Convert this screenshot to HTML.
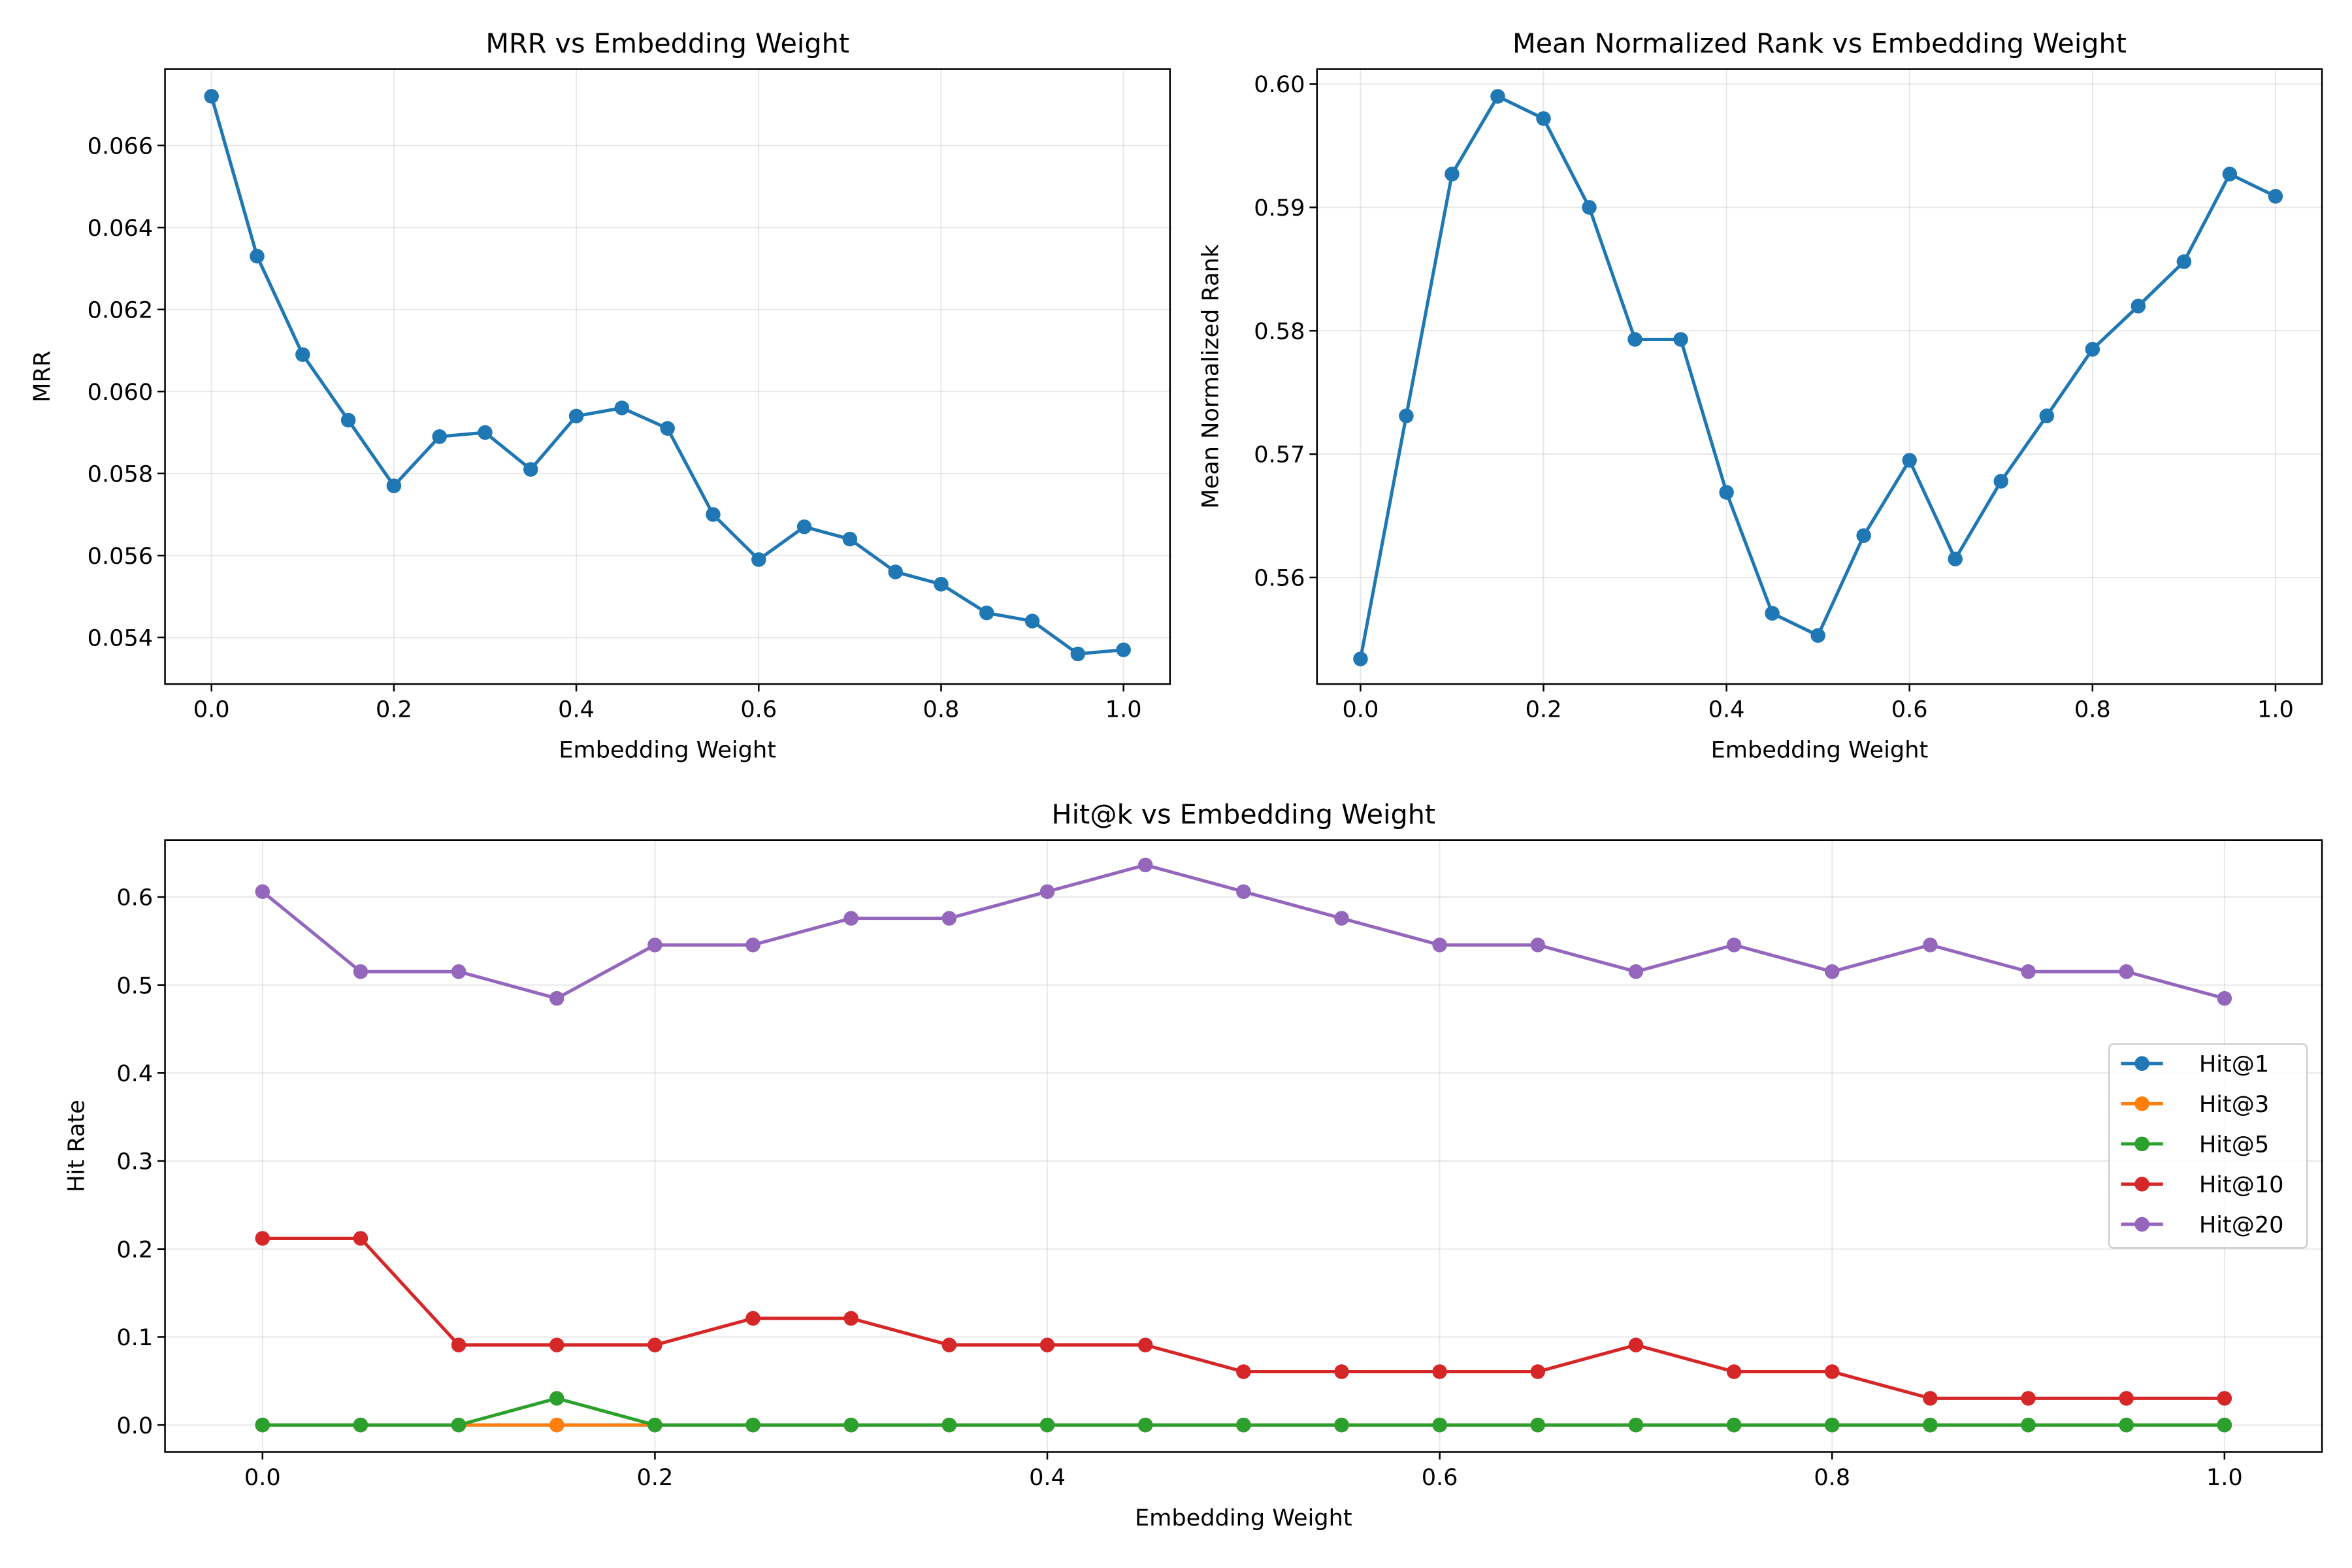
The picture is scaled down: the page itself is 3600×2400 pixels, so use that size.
<!DOCTYPE html>
<html><head><meta charset="utf-8"><style>
html,body{margin:0;padding:0;background:#fff}
svg{display:block}
text{font-family:"DejaVu Sans","Liberation Sans",sans-serif;fill:#000}
</style></head><body>
<svg id="fig" width="3600" height="2400" viewBox="0 0 1568 1045.33" xmlns="http://www.w3.org/2000/svg">
<rect width="1568" height="1045.33" fill="#fff"/>
</svg>
<script>
const weights=[0,0.05,0.1,0.15,0.2,0.25,0.3,0.35,0.4,0.45,0.5,0.55,0.6,0.65,0.7,0.75,0.8,0.85,0.9,0.95,1.0];
const mrr=[0.0672,0.0633,0.0609,0.0593,0.0577,0.0589,0.0590,0.0581,0.0594,0.0596,0.0591,0.0570,0.0559,0.0567,0.0564,0.0556,0.0553,0.0546,0.0544,0.0536,0.0537];
const mnr=[0.5534,0.5731,0.5927,0.5990,0.5972,0.5900,0.5793,0.5793,0.5669,0.5571,0.5553,0.5634,0.5695,0.5615,0.5678,0.5731,0.5785,0.5820,0.5856,0.5927,0.5909];
const hit1=[0,0,0,0,0,0,0,0,0,0,0,0,0,0,0,0,0,0,0,0,0];
const hit3=[0,0,0,0,0,0,0,0,0,0,0,0,0,0,0,0,0,0,0,0,0];
const hit5=[0,0,0,0.0303,0,0,0,0,0,0,0,0,0,0,0,0,0,0,0,0,0];
const hit10=[0.2121,0.2121,0.0909,0.0909,0.0909,0.1212,0.1212,0.0909,0.0909,0.0909,0.0606,0.0606,0.0606,0.0606,0.0909,0.0606,0.0606,0.0303,0.0303,0.0303,0.0303];
const hit20=[0.6061,0.5152,0.5152,0.4848,0.5455,0.5455,0.5758,0.5758,0.6061,0.6364,0.6061,0.5758,0.5455,0.5455,0.5152,0.5455,0.5152,0.5455,0.5152,0.5152,0.4848];
const xTicks=[0,0.2,0.4,0.6,0.8,1.0];
const mrrTicks=[0.054,0.056,0.058,0.060,0.062,0.064,0.066];
const mnrTicks=[0.56,0.57,0.58,0.59,0.60];
const hitTicks=[0,0.1,0.2,0.3,0.4,0.5,0.6];

const NS="http://www.w3.org/2000/svg";
const svg=document.getElementById('fig');
const FS=15.3, R_M=4.9, LW=2.2;
function el(tag,attrs,parent){const e=document.createElementNS(NS,tag);for(const k in attrs)e.setAttribute(k,attrs[k]);(parent||svg).appendChild(e);return e;}
function txt(s,attrs,parent){const e=el('text',attrs,parent);e.textContent=s;return e;}

function panel(cfg){
  const g=el('g',{});
  
  
  const {L,R,T,B}=cfg;
  const sx=v=>cfg.x0px+(v-0)*(cfg.x1px-cfg.x0px)/1.0;
  const sy=v=>cfg.ya_px+(v-cfg.ya)*(cfg.yb_px-cfg.ya_px)/(cfg.yb-cfg.ya);
  xTicks.forEach(t=>{const l=el('line',{x1:sx(t),x2:sx(t),y1:T,y2:B,stroke:'#b0b0b0','stroke-opacity':0.3,'stroke-width':0.8},g);});
  cfg.yTicks.forEach(t=>{const l=el('line',{x1:L,x2:R,y1:sy(t),y2:sy(t),stroke:'#b0b0b0','stroke-opacity':0.3,'stroke-width':0.8},g);});
  cfg.series.forEach(s=>{
    const sg=el('g',{},g);
    
    
    const pts=weights.map((w,i)=>sx(w).toFixed(2)+','+sy(s.data[i]).toFixed(2)).join(' ');
    el('polyline',{points:pts,fill:'none',stroke:s.color,'stroke-width':LW,'stroke-linejoin':'round'},sg);
    weights.forEach((w,i)=>{const c=el('circle',{cx:sx(w),cy:sy(s.data[i]),r:R_M,fill:s.color},sg);});
  });
  const fr=el('rect',{x:L,y:T,width:R-L,height:B-T,fill:'none',stroke:'#000','stroke-width':1.1},g);
  
  xTicks.forEach(t=>{el('line',{x1:sx(t),x2:sx(t),y1:B,y2:B+5,stroke:'#000','stroke-width':1.1},g);
    const tl=txt(t.toFixed(1),{x:sx(t),y:B+22,'font-size':FS,'text-anchor':'middle'},g);});
  cfg.yTicks.forEach(t=>{el('line',{x1:L-5,x2:L,y1:sy(t),y2:sy(t),stroke:'#000','stroke-width':1.1},g);
    const tl=txt(t.toFixed(cfg.yDec),{x:L-8,y:sy(t)+5.5,'font-size':FS,'text-anchor':'end'},g);});
  const tt=txt(cfg.title,{x:(L+R)/2,y:T-11,'font-size':18,'text-anchor':'middle'},g);
  const xl=txt('Embedding Weight',{x:(L+R)/2,y:B+49,'font-size':FS,'text-anchor':'middle'},g);
  const cy=(T+B)/2;
  const yl=txt(cfg.ylabel,{x:cfg.ylx,y:cy,'font-size':FS,'text-anchor':'middle',transform:`rotate(-90 ${cfg.ylx} ${cy})`},g);
  return g;
}

panel({name:'mrr-panel',L:110,R:780,T:46,B:456,x0px:141,x1px:749,ya:0.066,ya_px:97,yb:0.054,yb_px:425,yTicks:mrrTicks,yDec:3,
  title:'MRR vs Embedding Weight',ylabel:'MRR',ylx:33,series:[{label:'mrr',data:mrr,color:'#1f77b4'}]});
panel({name:'mean-normalized-rank-panel',L:878,R:1548,T:46,B:456,x0px:907,x1px:1517,ya:0.60,ya_px:56,yb:0.56,yb_px:385,yTicks:mnrTicks,yDec:2,
  title:'Mean Normalized Rank vs Embedding Weight',ylabel:'Mean Normalized Rank',ylx:812,series:[{label:'mnr',data:mnr,color:'#1f77b4'}]});
const hitSeries=[{label:'Hit@1',data:hit1,color:'#1f77b4'},{label:'Hit@3',data:hit3,color:'#ff7f0e'},{label:'Hit@5',data:hit5,color:'#2ca02c'},{label:'Hit@10',data:hit10,color:'#d62728'},{label:'Hit@20',data:hit20,color:'#9467bd'}];
panel({name:'hit-at-k-panel',L:110,R:1548,T:560,B:968,x0px:175,x1px:1483,ya:0,ya_px:950,yb:0.6,yb_px:598,yTicks:hitTicks,yDec:1,
  title:'Hit@k vs Embedding Weight',ylabel:'Hit Rate',ylx:56,series:hitSeries});

const lg=el('g',{});


el('rect',{x:1406,y:696,width:132,height:136,rx:3,fill:'#fff','fill-opacity':0.8,stroke:'#ccc','stroke-width':1},lg);
hitSeries.forEach((s,i)=>{
  const y=709+i*26.8;
  const e=el('g',{},lg);
  
  
  el('line',{x1:1414,x2:1442,y1:y,y2:y,stroke:s.color,'stroke-width':LW},e);
  el('circle',{cx:1428,cy:y,r:R_M,fill:s.color},e);
  txt(s.label,{x:1466,y:y+5.5,'font-size':FS},e);
});
</script>
</body></html>
